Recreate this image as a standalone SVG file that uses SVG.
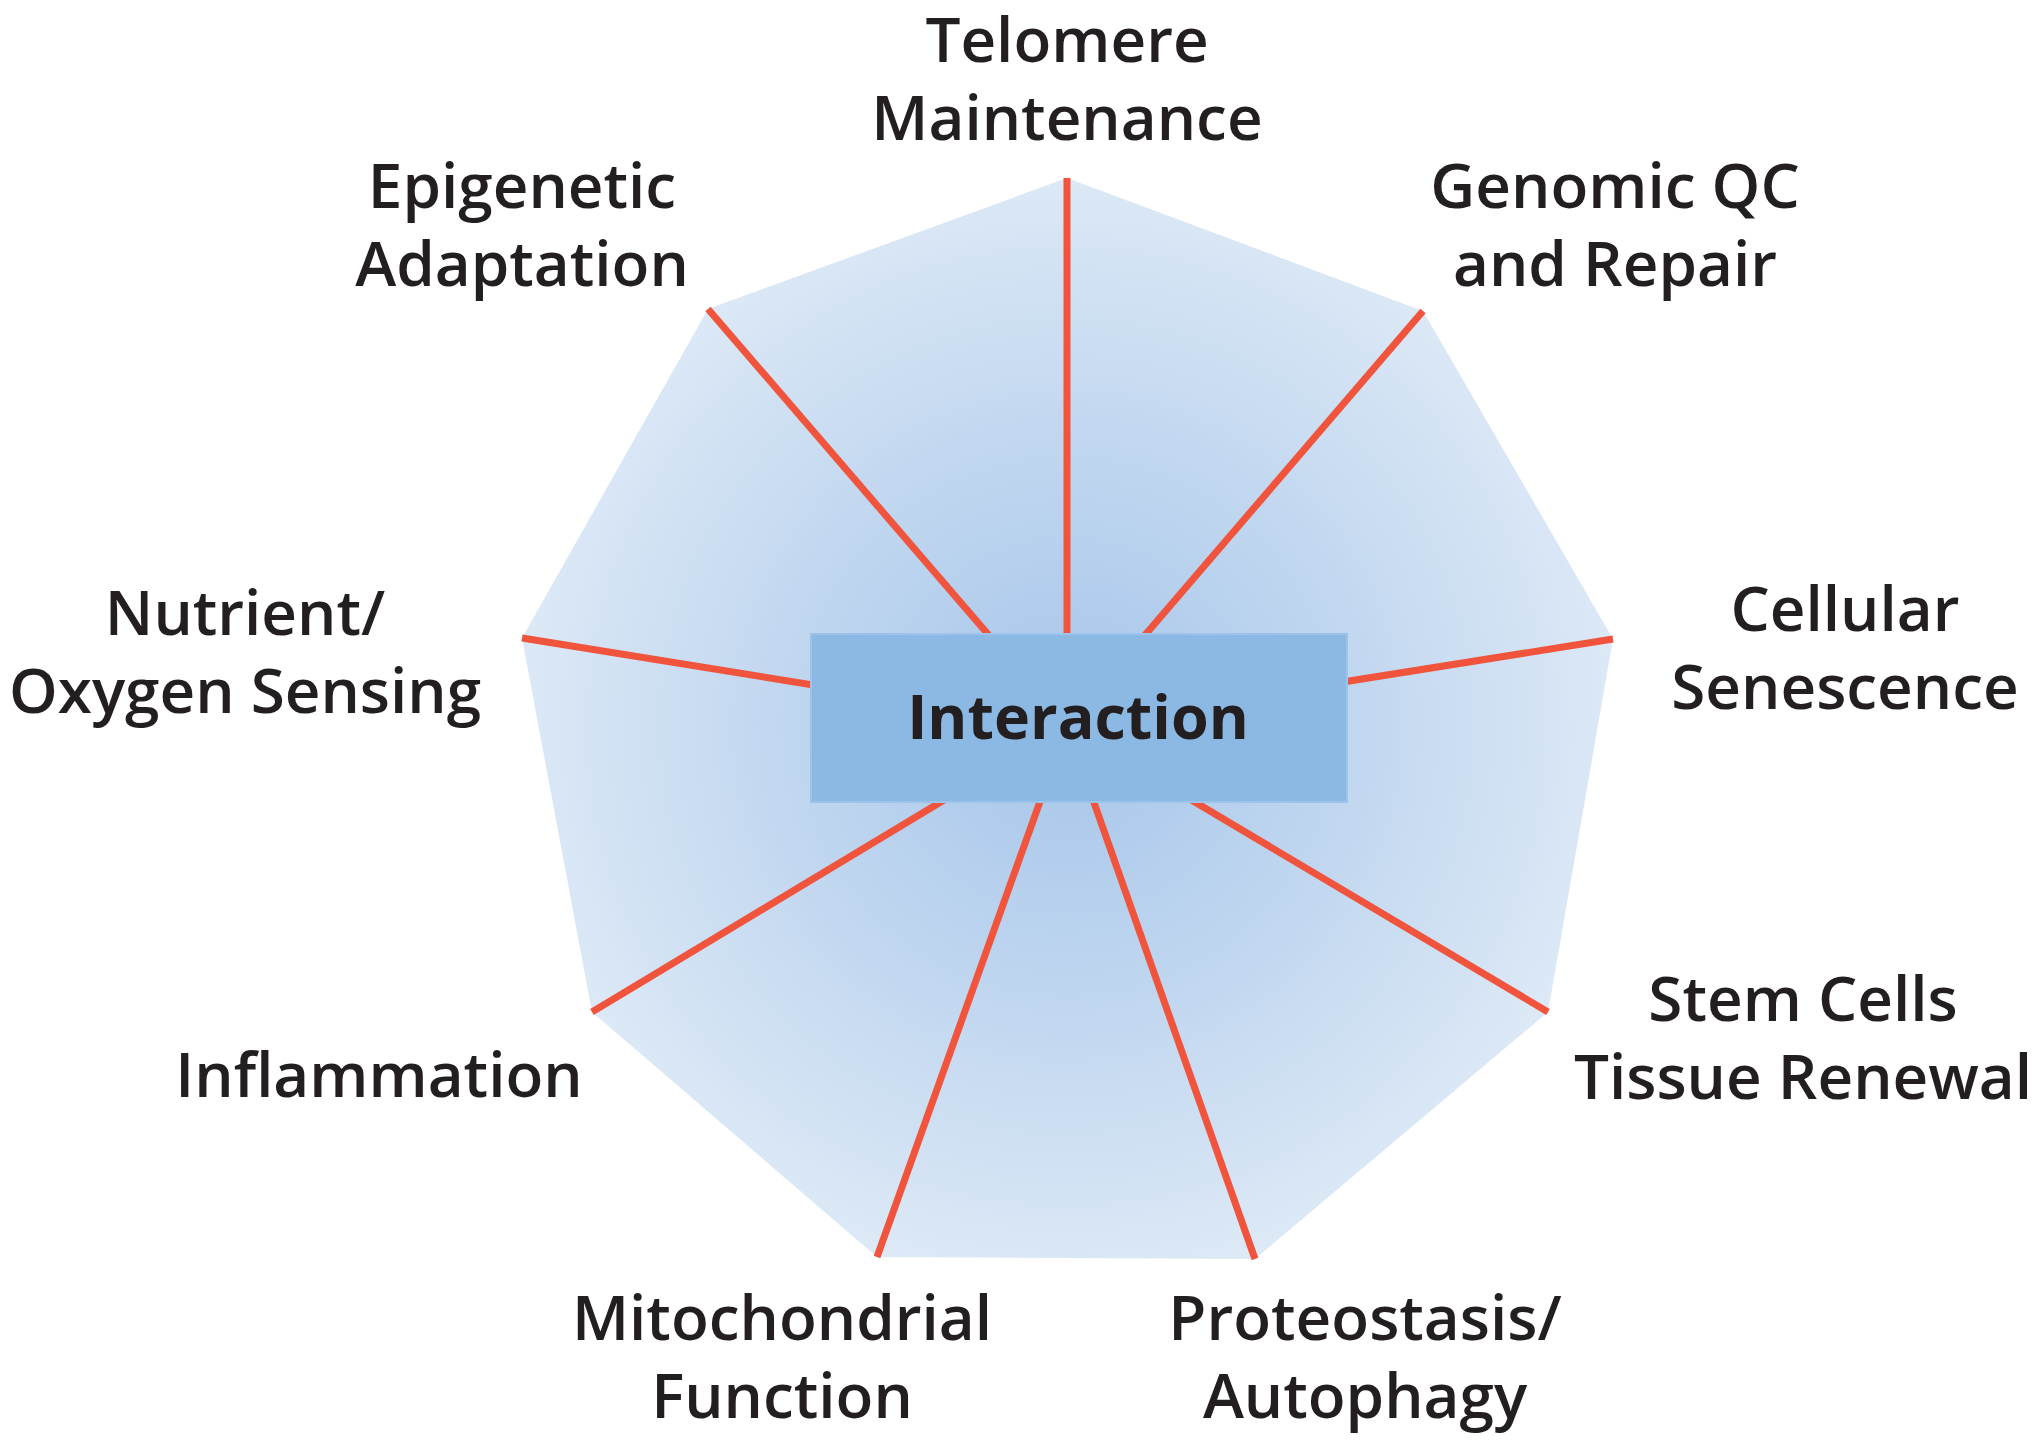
<svg xmlns="http://www.w3.org/2000/svg" width="2040" height="1444" viewBox="0 0 2040 1444">
<defs>
<radialGradient id="bg" gradientUnits="userSpaceOnUse" cx="1067" cy="726" r="560">
<stop offset="0" stop-color="#a6c6ea"/>
<stop offset="0.55" stop-color="#c3d8f0"/>
<stop offset="1" stop-color="#dde9f6"/>
</radialGradient>
<style>
.lbl{font-family:"Open Sans","Noto Sans",sans-serif;font-weight:600;font-size:62px;fill:#231f20;text-anchor:middle}
.spoke{stroke:#f0543c;stroke-width:7;stroke-linecap:butt}
</style>
</defs>
<rect width="2040" height="1444" fill="#ffffff"/>
<polygon points="1067,178 1423,311 1613,639 1548,1012 1255,1259 877,1257 592,1012 522,638 708,309" fill="url(#bg)"/>
<g id="connectors">
<line class="spoke" x1="1067" y1="178" x2="1067" y2="726"/>
<line class="spoke" x1="1423" y1="311" x2="1067" y2="726"/>
<line class="spoke" x1="1613" y1="639" x2="1067" y2="726"/>
<line class="spoke" x1="1548" y1="1012" x2="1067" y2="726"/>
<line class="spoke" x1="1255" y1="1259" x2="1067" y2="726"/>
<line class="spoke" x1="877" y1="1257" x2="1067" y2="726"/>
<line class="spoke" x1="592" y1="1012" x2="1067" y2="726"/>
<line class="spoke" x1="522" y1="638" x2="1067" y2="726"/>
<line class="spoke" x1="708" y1="309" x2="1067" y2="726"/>
</g>
<g id="interaction">
<rect x="811" y="634" width="536" height="168" fill="#8cb9e3" stroke="#9cc4ea" stroke-width="2"/>
<text x="1078" y="739" class="lbl" style="font-weight:700;font-size:61px">Interaction</text>
</g>
<g id="telomere"><text class="lbl" x="1067" y="62">Telomere</text><text class="lbl" x="1067" y="140">Maintenance</text></g>
<g id="genomic"><text class="lbl" x="1615" y="208">Genomic QC</text><text class="lbl" x="1615" y="286">and Repair</text></g>
<g id="senescence"><text class="lbl" x="1845" y="631">Cellular</text><text class="lbl" x="1845" y="709">Senescence</text></g>
<g id="stemcells"><text class="lbl" x="1803" y="1021">Stem Cells</text><text class="lbl" x="1803" y="1099">Tissue Renewal</text></g>
<g id="proteostasis"><text class="lbl" x="1365" y="1340">Proteostasis/</text><text class="lbl" x="1365" y="1418">Autophagy</text></g>
<g id="mitochondrial"><text class="lbl" x="782" y="1340">Mitochondrial</text><text class="lbl" x="782" y="1418">Function</text></g>
<g id="inflammation"><text class="lbl" x="379" y="1097">Inflammation</text></g>
<g id="nutrient"><text class="lbl" x="245" y="635">Nutrient/</text><text class="lbl" x="245" y="713">Oxygen Sensing</text></g>
<g id="epigenetic"><text class="lbl" x="522" y="208">Epigenetic</text><text class="lbl" x="522" y="286">Adaptation</text></g>
</svg>
